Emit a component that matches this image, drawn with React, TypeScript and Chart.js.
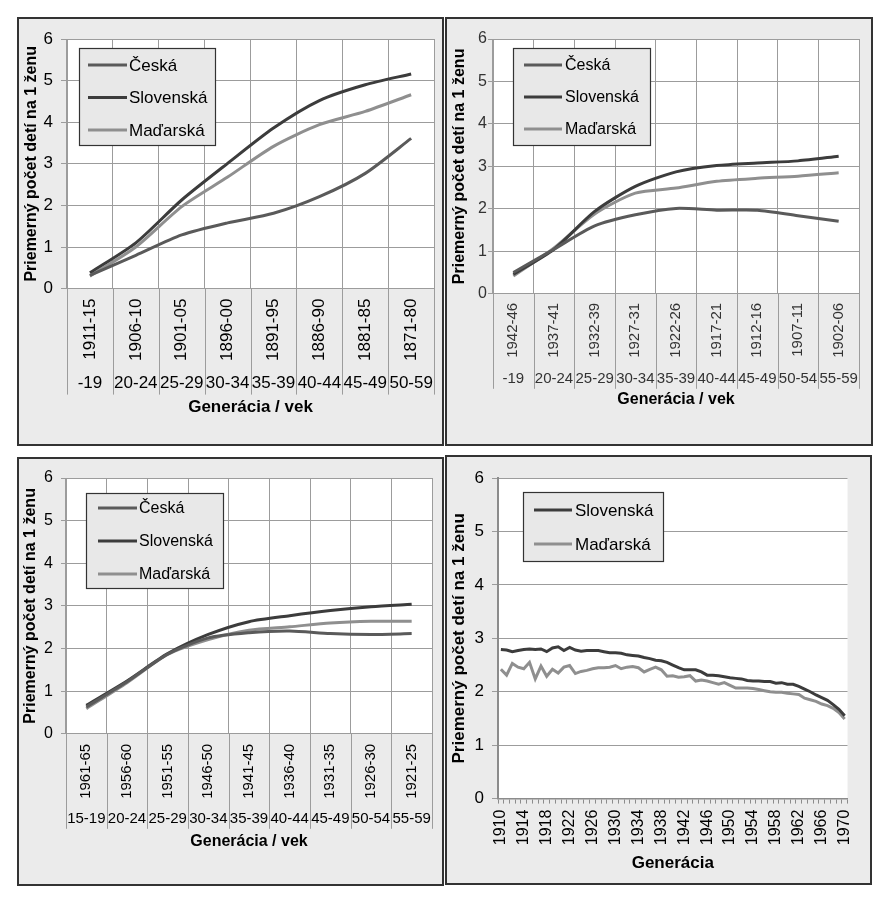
import React, { useEffect, useRef } from 'react';
import { Chart, registerables } from 'chart.js';

Chart.register(...registerables);

const FONT = '"Liberation Sans", Arial, Helvetica, sans-serif';
const C_CZ = '#5a5a5a';
const C_SK = '#3c3c3c';
const C_HU = '#8f8f8f';
const GRID = '#9c9c9c';
const Y_TITLE = 'Priemerný počet detí na 1 ženu';

// ---------- Panel 1 (top-left) ----------
const gen1 = ['1911-15', '1906-10', '1901-05', '1896-00', '1891-95', '1886-90', '1881-85', '1871-80'];
const age1 = ['-19', '20-24', '25-29', '30-34', '35-39', '40-44', '45-49', '50-59'];
const cz1 = [0.32, 0.8, 1.29, 1.58, 1.81, 2.21, 2.77, 3.61];
const sk1 = [0.38, 1.1, 2.13, 3.01, 3.86, 4.52, 4.9, 5.16];
const hu1 = [0.3, 1.0, 1.97, 2.68, 3.42, 3.94, 4.26, 4.66];

// ---------- Panel 2 (top-right) ----------
const gen2 = ['1942-46', '1937-41', '1932-39', '1927-31', '1922-26', '1917-21', '1912-16', '1907-11', '1902-06'];
const age2 = ['-19', '20-24', '25-29', '30-34', '35-39', '40-44', '45-49', '50-54', '55-59'];
const cz2 = [0.5, 1.05, 1.6, 1.86, 2.01, 1.97, 1.97, 1.84, 1.71];
const sk2 = [0.46, 1.05, 1.94, 2.53, 2.87, 3.02, 3.08, 3.13, 3.24];
const hu2 = [0.42, 1.08, 1.88, 2.37, 2.49, 2.65, 2.72, 2.77, 2.85];

// ---------- Panel 3 (bottom-left) ----------
const gen3 = ['1961-65', '1956-60', '1951-55', '1946-50', '1941-45', '1936-40', '1931-35', '1926-30', '1921-25'];
const age3 = ['15-19', '20-24', '25-29', '30-34', '35-39', '40-44', '45-49', '50-54', '55-59'];
const cz3 = [0.63, 1.22, 1.87, 2.25, 2.37, 2.41, 2.35, 2.33, 2.35];
const sk3 = [0.67, 1.24, 1.88, 2.33, 2.63, 2.77, 2.89, 2.98, 3.04];
const hu3 = [0.59, 1.2, 1.86, 2.21, 2.43, 2.51, 2.6, 2.64, 2.64];

// ---------- Panel 4 (bottom-right) ----------
const years4 = [
  '1910', '1911', '1912', '1913', '1914', '1915', '1916', '1917', '1918', '1919',
  '1920', '1921', '1922', '1923', '1924', '1925', '1926', '1927', '1928', '1929',
  '1930', '1931', '1932', '1933', '1934', '1935', '1936', '1937', '1938', '1939',
  '1940', '1941', '1942', '1943', '1944', '1945', '1946', '1947', '1948', '1949',
  '1950', '1951', '1952', '1953', '1954', '1955', '1956', '1957', '1958', '1959',
  '1960', '1961', '1962', '1963', '1964', '1965', '1966', '1967', '1968', '1969',
  '1970',
];
const sk4 = [
  2.79, 2.78, 2.75, 2.77, 2.79, 2.8, 2.79, 2.8, 2.75, 2.82,
  2.84, 2.77, 2.83, 2.78, 2.76, 2.77, 2.77, 2.77, 2.75, 2.73,
  2.73, 2.72, 2.69, 2.68, 2.67, 2.64, 2.62, 2.59, 2.58, 2.55,
  2.5, 2.45, 2.41, 2.41, 2.41, 2.37, 2.31, 2.31, 2.3, 2.28,
  2.26, 2.25, 2.24, 2.21, 2.2, 2.2, 2.19, 2.19, 2.16, 2.17,
  2.14, 2.14, 2.1, 2.05, 2.0, 1.94, 1.89, 1.84, 1.76, 1.67,
  1.55,
];
const hu4 = [
  2.42, 2.31, 2.53, 2.46, 2.43, 2.55, 2.24, 2.48, 2.29, 2.42,
  2.35, 2.46, 2.49, 2.34, 2.38, 2.4, 2.43, 2.45, 2.45, 2.46,
  2.49, 2.43, 2.46, 2.47, 2.45, 2.37, 2.42, 2.46, 2.41, 2.29,
  2.3, 2.27, 2.28, 2.3, 2.2, 2.22, 2.2, 2.17, 2.14, 2.17,
  2.12, 2.07, 2.07, 2.07, 2.06, 2.04, 2.02, 2.0, 1.99, 1.99,
  1.97, 1.96, 1.95, 1.88, 1.85, 1.82, 1.77, 1.74, 1.69, 1.61,
  1.49,
];

// ---------- plugins ----------
const plotBg = {
  id: 'plotBg',
  beforeDraw(chart: any, _a: any, o: any) {
    if (!o || !o.color) return;
    const { ctx, chartArea: a } = chart;
    ctx.save();
    ctx.fillStyle = o.color;
    ctx.fillRect(a.left, a.top, a.right - a.left, a.bottom - a.top);
    ctx.restore();
  },
};

const dividers = {
  id: 'dividers',
  afterDraw(chart: any, _a: any, o: any) {
    if (!o || !o.enabled) return;
    const x = chart.scales.x;
    const x2 = chart.scales.x2;
    if (!x || !x2) return;
    const n = x.getLabels().length;
    const ctx = chart.ctx;
    ctx.save();
    ctx.strokeStyle = o.color;
    ctx.lineWidth = 1;
    for (let i = 0; i <= n; i++) {
      const px = Math.round(x.getPixelForValue(i - 0.5)) + 0.5;
      ctx.beginPath();
      ctx.moveTo(px, chart.chartArea.bottom);
      ctx.lineTo(px, x2.bottom);
      ctx.stroke();
    }
    ctx.restore();
  },
};

const boxLegend = {
  id: 'boxLegend',
  afterDraw(chart: any, _a: any, o: any) {
    if (!o || !o.w) return;
    const a = chart.chartArea;
    const ctx = chart.ctx;
    const x = Math.round(a.left + o.dx);
    const y = Math.round(a.top + o.dy);
    ctx.save();
    ctx.fillStyle = '#e8e8e8';
    ctx.fillRect(x, y, o.w, o.h);
    ctx.strokeStyle = '#333';
    ctx.lineWidth = 1.2;
    ctx.strokeRect(x + 0.5, y + 0.5, o.w - 1, o.h - 1);
    chart.data.datasets.forEach((ds: any, i: number) => {
      const ry = y + o.row0 + i * o.step;
      ctx.strokeStyle = ds.borderColor;
      ctx.lineWidth = 3;
      ctx.beginPath();
      ctx.moveTo(x + o.l0, ry);
      ctx.lineTo(x + o.l1, ry);
      ctx.stroke();
      ctx.fillStyle = '#000';
      ctx.font = `${o.size}px ${FONT}`;
      ctx.textBaseline = 'middle';
      ctx.textAlign = 'left';
      ctx.fillText(ds.label, x + o.tx, ry + 1);
    });
    ctx.restore();
  },
};

function mkDatasets(list: { label: string; data: number[]; color: string }[], tension: number) {
  return list.map((s) => ({
    label: s.label,
    data: s.data,
    borderColor: s.color,
    backgroundColor: s.color,
    borderWidth: 3,
    pointRadius: 0,
    tension,
    fill: false,
  }));
}

function catConfig(p: any) {
  return {
    type: 'line',
    data: {
      labels: p.gen,
      datasets: mkDatasets(p.series, 0.25),
    },
    options: {
      animation: false,
      responsive: false,
      events: [],
      layout: { padding: p.pad },
      scales: {
        x: {
          type: 'category',
          offset: true,
          weight: 0,
          grid: { offset: true, color: GRID, drawTicks: false, tickLength: 0 },
          border: { color: GRID },
          ticks: {
            autoSkip: false,
            maxRotation: 90,
            minRotation: 90,
            padding: p.genPad,
            color: p.tickColor,
            font: { family: FONT, size: p.genSize },
          },
          afterFit: (s: any) => { s.height = p.xH; },
        },
        x2: {
          type: 'category',
          labels: p.age,
          position: 'bottom',
          offset: true,
          weight: 1,
          grid: { display: false, drawTicks: false, tickLength: 0 },
          border: { display: false },
          ticks: {
            autoSkip: false,
            maxRotation: 0,
            minRotation: 0,
            padding: 2,
            color: p.tickColor,
            font: { family: FONT, size: p.ageSize },
          },
          afterFit: (s: any) => { s.height = p.x2H; },
        },
        y: {
          min: 0,
          max: 6,
          ticks: {
            stepSize: 1,
            padding: p.yPad,
            color: p.tickColor,
            font: { family: FONT, size: p.ySize },
          },
          grid: { color: GRID, tickLength: p.yTick },
          border: { color: GRID },
          title: {
            display: true,
            text: Y_TITLE,
            color: '#000',
            padding: 0,
            font: { family: FONT, size: 16, weight: 'bold' },
          },
          afterFit: (s: any) => { s.width = p.yW; },
        },
      },
      plugins: {
        legend: { display: false },
        tooltip: { enabled: false },
        title: {
          display: true,
          position: 'bottom',
          fullSize: false,
          text: 'Generácia / vek',
          color: '#000',
          font: { family: FONT, size: p.tSize, weight: 'bold' },
          padding: { top: p.tPad, bottom: 0 },
        },
        plotBg: { color: '#ffffff' },
        dividers: { enabled: true, color: GRID },
        boxLegend: p.legend,
      },
    },
    plugins: [plotBg, dividers, boxLegend],
  };
}

const three = (cz: number[], sk: number[], hu: number[]) => [
  { label: 'Česká', data: cz, color: C_CZ },
  { label: 'Slovenská', data: sk, color: C_SK },
  { label: 'Maďarská', data: hu, color: C_HU },
];

const cfg1 = () => catConfig({
  gen: gen1, age: age1, series: three(cz1, sk1, hu1),
  pad: { left: 3, top: 20, right: 7, bottom: 26 },
  genPad: 10, genSize: 17, ageSize: 17, ySize: 17, yPad: 8, yTick: 6, yW: 45,
  xH: 83, x2H: 23, tSize: 17, tPad: 3, tickColor: '#000',
  legend: { dx: 12, dy: 9, w: 137, h: 98, row0: 17, step: 32.5, l0: 9, l1: 48, tx: 50, size: 17 },
});

const cfg2 = () => catConfig({
  gen: gen2, age: age2, series: three(cz2, sk2, hu2),
  pad: { left: 3, top: 20, right: 12, bottom: 35 },
  genPad: 9, genSize: 15, ageSize: 15, ySize: 16, yPad: 1, yTick: 5, yW: 43,
  xH: 74, x2H: 21, tSize: 16, tPad: 1, tickColor: '#333',
  legend: { dx: 20, dy: 9, w: 138, h: 98, row0: 17, step: 32, l0: 11, l1: 49, tx: 52, size: 16 },
});

const cfg3 = () => catConfig({
  gen: gen3, age: age3, series: three(cz3, sk3, hu3),
  pad: { left: 2, top: 19, right: 10, bottom: 33 },
  genPad: 10, genSize: 15, ageSize: 15, ySize: 16, yPad: 8, yTick: 5, yW: 45,
  xH: 74, x2H: 21, tSize: 16, tPad: 3, tickColor: '#000',
  legend: { dx: 20, dy: 15, w: 138, h: 96, row0: 15, step: 33, l0: 12, l1: 51, tx: 53, size: 16 },
});

const cfg4 = () => ({
  type: 'line',
  data: {
    labels: years4,
    datasets: mkDatasets([
      { label: 'Slovenská', data: sk4, color: C_SK },
      { label: 'Maďarská', data: hu4, color: C_HU },
    ], 0),
  },
  options: {
    animation: false,
    responsive: false,
    events: [],
    layout: { padding: { left: 2, top: 21, right: 16, bottom: 9 } },
    scales: {
      x: {
        type: 'category',
        offset: true,
        grid: { offset: true, drawOnChartArea: false, tickLength: 5, color: '#8c8c8c' },
        border: { color: '#8c8c8c', width: 1.5 },
        ticks: {
          autoSkip: false,
          maxRotation: 90,
          minRotation: 90,
          padding: 6,
          color: '#000',
          font: { family: FONT, size: 16 },
          callback: (_v: any, i: number) => (i % 4 === 0 ? years4[i] : ''),
        },
        afterFit: (s: any) => { s.height = 47; },
      },
      y: {
        min: 0,
        max: 6,
        ticks: { stepSize: 1, padding: 8, color: '#000', font: { family: FONT, size: 17 } },
        grid: { color: GRID, tickLength: 6 },
        border: { color: '#8c8c8c', width: 2 },
        title: {
          display: true,
          text: Y_TITLE,
          color: '#000',
          padding: 0,
          font: { family: FONT, size: 17, weight: 'bold' },
        },
        afterFit: (s: any) => { s.width = 49; },
      },
    },
    plugins: {
      legend: { display: false },
      tooltip: { enabled: false },
      title: {
        display: true,
        position: 'bottom',
        fullSize: false,
        text: 'Generácia',
        color: '#000',
        font: { family: FONT, size: 17, weight: 'bold' },
        padding: { top: 8, bottom: 0 },
      },
      plotBg: { color: '#ffffff' },
      boxLegend: { dx: 25, dy: 14, w: 141, h: 70, row0: 18, step: 34, l0: 11, l1: 49, tx: 52, size: 17 },
    },
  },
  plugins: [plotBg, boxLegend],
});

function Panel(props: { left: number; top: number; width: number; height: number; make: () => any }) {
  const ref = useRef<HTMLCanvasElement | null>(null);
  useEffect(() => {
    if (!ref.current) return;
    const chart = new Chart(ref.current, props.make());
    return () => chart.destroy();
  }, []);
  const b = 2;
  return (
    <div
      style={{
        position: 'absolute',
        left: props.left,
        top: props.top,
        width: props.width,
        height: props.height,
        boxSizing: 'border-box',
        border: `${b}px solid #333`,
        background: '#ebebeb',
      }}
    >
      <canvas
        ref={ref}
        width={props.width - 2 * b}
        height={props.height - 2 * b}
        style={{ display: 'block', width: props.width - 2 * b, height: props.height - 2 * b }}
      />
    </div>
  );
}

export default function App() {
  return (
    <div style={{ position: 'absolute', left: 0, top: 0, width: 890, height: 901, background: '#fff' }}>
      <Panel left={17} top={17} width={427} height={429} make={cfg1} />
      <Panel left={445} top={17} width={428} height={429} make={cfg2} />
      <Panel left={17} top={457} width={427} height={429} make={cfg3} />
      <Panel left={445} top={455} width={427} height={430} make={cfg4} />
    </div>
  );
}
